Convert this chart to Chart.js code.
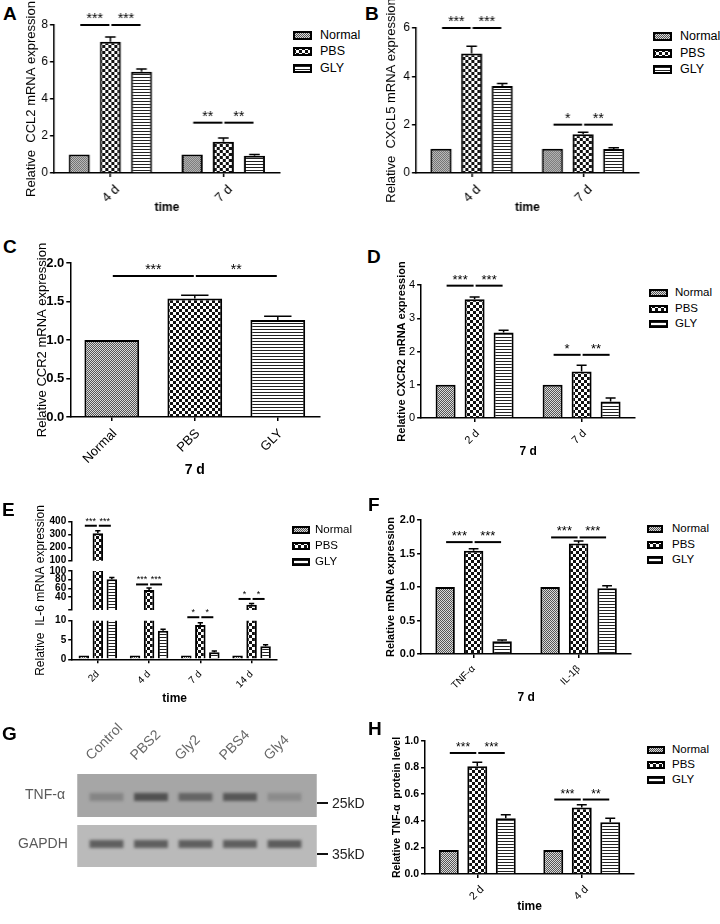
<!DOCTYPE html>
<html>
<head>
<meta charset="utf-8">
<script src="https://cdn.jsdelivr.net/npm/chart.js@4.4.1/dist/chart.umd.min.js"></script>
<style>
  body { margin: 0; background: #fff; font-family: Arial, "Liberation Sans", sans-serif; }
  #fig { position: relative; width: 720px; height: 924px; overflow: hidden; background: #fff; }
  .box { position: absolute; }
</style>
</head>
<body>
<div id="fig"></div>
<script>
const series = ['Normal', 'PBS', 'GLY'];

// A - CCL2
const daysA = ['4 d', '7 d'];
const normalA = [1, 1];
const pbsA = [7.1, 1.69];
const glyA = [5.47, 0.93];
const errA = [[0, 0], [0.25, 0.2], [0.15, 0.07]];
const sigA = [[0, 0, 1, 8, '***'], [0, 1, 2, 8, '***'], [1, 0, 1, 2.72, '**'], [1, 1, 2, 2.72, '**']];

// B - CXCL5
const daysB = ['4 d', '7 d'];
const normalB = [1, 1];
const pbsB = [4.95, 1.6];
const glyB = [3.6, 0.99];
const errB = [[0, 0], [0.3, 0.09], [0.1, 0.05]];
const sigB = [[0, 0, 1, 6, '***'], [0, 1, 2, 6, '***'], [1, 0, 1, 2.0, '*'], [1, 1, 2, 2.0, '**']];

// C - CCR2, 7 d
const groupsC = ['Normal', 'PBS', 'GLY'];
const valuesC = [1, 1.54, 1.26];
const errC = [[0, 0.04, 0.05]];
const sigC = [[0, 0, 1, 1.83, '***'], [0, 1, 2, 1.83, '**']];

// D - CXCR2
const daysD = ['2 d', '7 d'];
const normalD = [1, 1];
const pbsD = [3.57, 1.4];
const glyD = [2.57, 0.5];
const errD = [[0, 0], [0.07, 0.19], [0.07, 0.1]];
const sigD = [[0, 0, 1, 3.98, '***'], [0, 1, 2, 3.98, '***'], [1, 0, 1, 1.9, '*'], [1, 1, 2, 1.9, '**']];

// E - IL-6 (broken axis)
const daysE = ['2d', '4 d', '7 d', '14 d'];
const normalE = [1, 1, 1, 1];
const pbsE = [311, 56, 8.9, 22];
const glyE = [81, 7.4, 1.8, 3.4];
const errE = [[0, 0, 0, 0], [20, 5, 0.6, 3], [4, 0.4, 0.35, 0.35]];
const sigE = [[0, 0, 1, 369, '***'], [0, 1, 2, 369, '***'], [1, 0, 1, 69, '***'], [1, 1, 2, 69, '***'],
              [2, 0, 1, 10.9, '*'], [2, 1, 2, 10.9, '*'], [3, 0, 1, 35.5, '*'], [3, 1, 2, 35.5, '*']];

// F - TNF-a / IL-1b, 7 d
const genesF = ['TNF-α', 'IL-1β'];
const normalF = [1, 1];
const pbsF = [1.54, 1.65];
const glyF = [0.19, 0.98];
const errF = [[0, 0], [0.03, 0.035], [0.02, 0.04]];
const sigF = [[0, 0, 1, 1.67, '***'], [0, 1, 2, 1.67, '***'], [1, 0, 1, 1.74, '***'], [1, 1, 2, 1.74, '***']];

// G - western blot lanes
const lanes = ['Control', 'PBS2', 'Gly2', 'PBS4', 'Gly4'];
const tnfBand = [0.25, 0.65, 0.5, 0.6, 0.2];
const gapdhBand = [0.6, 0.6, 0.6, 0.6, 0.62];

// H - TNF-a protein
const daysH = ['2 d', '4 d'];
const normalH = [0.18, 0.18];
const pbsH = [0.81, 0.5];
const glyH = [0.42, 0.39];
const errH = [[0, 0], [0.03, 0.02], [0.025, 0.03]];
const sigH = [[0, 0, 1, 0.91, '***'], [0, 1, 2, 0.91, '***'], [1, 0, 1, 0.56, '***'], [1, 1, 2, 0.56, '**']];

const FONT = 'Arial, "Liberation Sans", sans-serif';
const fig = document.getElementById('fig');

function tile(kind) {
  const c = document.createElement('canvas');
  if (kind === 0) {
    c.width = c.height = 2;
    const g = c.getContext('2d');
    g.fillStyle = '#dadada'; g.fillRect(0, 0, 2, 2);
    g.fillStyle = '#555'; g.fillRect(0, 0, 1, 1); g.fillRect(1, 1, 1, 1);
  } else if (kind === 1) {
    c.width = c.height = 6;
    const g = c.getContext('2d');
    g.fillStyle = '#111'; g.fillRect(0, 0, 6, 6);
    g.fillStyle = '#fff'; g.fillRect(0, 0, 3, 3); g.fillRect(3, 3, 3, 3);
  } else {
    c.width = 1; c.height = 3;
    const g = c.getContext('2d');
    g.fillStyle = '#fff'; g.fillRect(0, 0, 1, 3);
    g.fillStyle = '#222'; g.fillRect(0, 2, 1, 1);
  }
  return c;
}
const pat = [0, 1, 2].map(k => document.createElement('canvas').getContext('2d').createPattern(tile(k), 'repeat'));

function place(x, y, w, h) {
  const d = document.createElement('div');
  d.className = 'box';
  Object.assign(d.style, { left: x + 'px', top: y + 'px', width: w + 'px', height: h + 'px' });
  const c = document.createElement('canvas');
  d.appendChild(c);
  fig.appendChild(d);
  return c;
}

function text(str, x, yc, size, css) {
  const d = document.createElement('div');
  d.textContent = str;
  Object.assign(d.style, {
    position: 'absolute', left: x + 'px', top: (yc - size * 0.6) + 'px',
    fontSize: size + 'px', lineHeight: (size * 1.2) + 'px', whiteSpace: 'nowrap'
  }, css || {});
  fig.appendChild(d);
}

function legend(x, y, dy, w, h, tx, size) {
  series.forEach((name, i) => {
    const yc = y + i * dy;
    const sw = document.createElement('canvas');
    sw.width = w; sw.height = h;
    Object.assign(sw.style, { position: 'absolute', left: x + 'px', top: (yc - h / 2) + 'px' });
    const g = sw.getContext('2d');
    g.fillStyle = g.createPattern(tile(i), 'repeat');
    g.fillRect(0, 0, w, h);
    g.lineWidth = 2; g.strokeStyle = '#000'; g.strokeRect(1, 1, w - 2, h - 2);
    fig.appendChild(sw);
    text(name, tx, yc, size);
  });
}

// error bars and significance lines, drawn through the chart's scales
function marks(m) {
  const lo = m.band ? m.band[0] : -Infinity, hi = m.band ? m.band[1] : Infinity;
  const barAt = (chart, g, k) => chart.data.datasets.length === 1
    ? chart.getDatasetMeta(0).data[k] : chart.getDatasetMeta(k).data[g];
  return {
    id: 'marks',
    afterDatasetsDraw(chart) {
      const ctx = chart.ctx, y = chart.scales.y;
      ctx.save();
      ctx.strokeStyle = '#000';
      ctx.lineWidth = 1.5;
      m.errors.forEach((errs, i) => {
        chart.getDatasetMeta(i).data.forEach((bar, j) => {
          const v = chart.data.datasets[i].data[j], e = errs[j];
          if (!e || v < lo || v >= hi) return;
          const top = y.getPixelForValue(v + e), cap = bar.width / 4;
          ctx.beginPath();
          ctx.moveTo(bar.x, bar.y); ctx.lineTo(bar.x, top);
          ctx.moveTo(bar.x - cap, top); ctx.lineTo(bar.x + cap, top);
          ctx.stroke();
        });
      });
      ctx.lineWidth = 2;
      ctx.fillStyle = '#000';
      ctx.textAlign = 'center';
      ctx.textBaseline = 'alphabetic';
      ctx.font = m.star + 'px ' + FONT;
      m.sig.forEach(([g, a, b, v, txt]) => {
        if (v < lo || v >= hi) return;
        const xa = barAt(chart, g, a).x + 1, xb = barAt(chart, g, b).x - 1, py = y.getPixelForValue(v);
        ctx.beginPath(); ctx.moveTo(xa, py); ctx.lineTo(xb, py); ctx.stroke();
        ctx.fillText(txt, (xa + xb) / 2, py - 2);
      });
      ctx.restore();
    }
  };
}

const font = (size, bold) => ({ family: FONT, size, weight: bold ? 'bold' : 'normal' });

function bars(c) {
  const canvas = place(...c.box);
  return new Chart(canvas, {
    type: 'bar',
    data: { labels: c.labels, datasets: c.datasets },
    options: {
      responsive: true, maintainAspectRatio: false, animation: false, events: [],
      layout: { padding: { left: 0, top: c.pad[0], right: c.pad[1], bottom: c.pad[2] } },
      datasets: { bar: { categoryPercentage: c.pct[0], barPercentage: c.pct[1], borderColor: '#000', borderWidth: 2, clip: c.clip } },
      plugins: { legend: { display: false }, tooltip: { enabled: false } },
      scales: {
        x: {
          display: c.x.display !== false, offset: true,
          grid: { drawOnChartArea: false, offset: false, tickLength: 4, color: '#000', lineWidth: 1.5 },
          border: { color: '#000', width: 1.5 },
          ticks: { color: '#000', font: font(c.x.size), minRotation: 45, maxRotation: 45, autoSkip: false,
                   padding: c.x.pad, labelOffset: c.x.shift || 0 },
          title: { display: !!c.x.title, text: c.x.title, color: '#000', font: font(c.x.ts, true), padding: 0 },
          afterFit: s => { s.height = c.xHeight; }
        },
        y: {
          min: c.y.min || 0, max: c.y.max,
          grid: { drawOnChartArea: false, tickLength: 4, color: '#000', lineWidth: 1.5 },
          border: { color: '#000', width: 1.5 },
          ticks: { stepSize: c.y.step, color: '#000', font: font(c.y.size, c.y.bold), padding: 2, autoSkip: false, callback: c.y.fmt || (v => v) },
          title: { display: !!c.y.title, text: c.y.title, color: '#000', font: font(c.y.ts, c.y.tb), padding: 0 },
          afterFit: s => { s.width = c.yWidth; }
        }
      }
    },
    plugins: [marks(c.marks)]
  });
}

// one ordinary panel: area = plot rectangle on the page
function panel(p) {
  const [x0, y0, x1, y1] = p.area;
  const L = x0 - (p.y.tx - 0.6 * p.y.ts);
  const B = p.x.ty + 0.6 * p.x.ts - y1;
  return bars({
    box: [x0 - L, p.top, x1 - x0 + L + 6, y1 - p.top + B],
    pad: [y0 - p.top, 6, 0], yWidth: L, xHeight: B,
    labels: p.labels, datasets: p.datasets, pct: p.pct,
    x: p.x, y: p.y, marks: p.marks
  });
}

const groupSets = vals => vals.map((v, i) => ({ label: series[i], data: v, backgroundColor: pat[i] }));
const oneDec = v => v.toFixed(1);

panel({
  labels: daysA, datasets: groupSets([normalA, pbsA, glyA]), pct: [0.827, 0.677],
  area: [54, 25, 279, 173], top: 0,
  y: { max: 8, step: 2, size: 12, title: 'Relative  CCL2 mRNA expression', tx: 32, ts: 13 },
  x: { size: 13, pad: 5, shift: 7, title: 'time', ty: 208, ts: 12 },
  marks: { errors: errA, sig: sigA, star: 14 }
});

panel({
  labels: daysB, datasets: groupSets([normalB, pbsB, glyB]), pct: [0.824, 0.69],
  area: [416, 28, 638, 173], top: 0,
  y: { max: 6, step: 2, size: 12, title: 'Relative  CXCL5 mRNA expression', tx: 392, ts: 13 },
  x: { size: 13, pad: 5, shift: 7, title: 'time', ty: 208, ts: 12 },
  marks: { errors: errB, sig: sigB, star: 14 }
});

panel({
  labels: groupsC, datasets: [{ label: '7 d', data: valuesC, backgroundColor: pat }], pct: [0.66, 1],
  area: [70.5, 263, 319.5, 417], top: 228,
  y: { max: 2, step: 0.5, size: 13, bold: true, fmt: oneDec, title: 'Relative CCR2 mRNA expression', tx: 43, ts: 13 },
  x: { size: 13, pad: 5, shift: 3, title: '7 d', ty: 470, ts: 14 },
  marks: { errors: errC, sig: sigC, star: 14 }
});

panel({
  labels: daysD, datasets: groupSets([normalD, pbsD, glyD]), pct: [0.813, 0.69],
  area: [421.5, 285, 635.5, 418], top: 248,
  y: { max: 4, step: 1, size: 11, title: 'Relative CXCR2 mRNA expression', tx: 402, ts: 11, tb: true },
  x: { size: 11, pad: 5, shift: 3, title: '7 d', ty: 452, ts: 12 },
  marks: { errors: errD, sig: sigD, star: 13 }
});

// E: three stacked segments sharing one box
(function () {
  const x0 = 72, x1 = 277, top = 500, bottom = 706;
  const L = x0 - (40 - 0.6 * 12);
  const box = [x0 - L, top, x1 - x0 + L + 6, bottom - top];
  const segs = [
    { y0: 521.7, y1: 560.7, min: 100, max: 400, step: 100, band: [100, Infinity] },
    { y0: 571, y1: 610, min: 10, max: 100, step: 20, band: [12, 100], fmt: v => (v === 10 ? '' : v), title: 'Relative  IL-6 mRNA expression' },
    { y0: 620.7, y1: 659.3, min: 0, max: 10, step: 5, band: [0, 12], axis: true }
  ];
  segs.forEach(s => bars({
    box, pad: [s.y0 - top, 6, s.axis ? 0 : bottom - s.y1], yWidth: L, xHeight: s.axis ? bottom - s.y1 : 0,
    labels: daysE, datasets: groupSets([normalE, pbsE, glyE]), pct: [0.82, 0.75], clip: 0,
    x: s.axis ? { size: 10, pad: 5, title: 'time', ts: 12 } : { display: false },
    y: { min: s.min, max: s.max, step: s.step, size: 10, bold: true, fmt: s.fmt, title: s.title, ts: 12 },
    marks: { errors: errE, sig: sigE, star: 9, band: s.band }
  }));
})();

panel({
  labels: genesF, datasets: groupSets([normalF, pbsF, glyF]), pct: [0.814, 0.684],
  area: [421.5, 520, 631.5, 654], top: 494,
  y: { max: 2, step: 0.5, size: 11, bold: true, fmt: oneDec, title: 'Relative mRNA expression', tx: 391, ts: 11, tb: true },
  x: { size: 10, pad: 5, title: '7 d', ty: 698, ts: 12 },
  marks: { errors: errF, sig: sigF, star: 13 }
});

panel({
  labels: daysH, datasets: groupSets([normalH, pbsH, glyH]), pct: [0.818, 0.7],
  area: [424.75, 741, 633.75, 874], top: 716,
  y: { max: 1, step: 0.2, size: 10.5, bold: true, fmt: oneDec, title: 'Relative TNF-α  protein level', tx: 397, ts: 10.5, tb: true },
  x: { size: 11, pad: 5, shift: 5, title: 'time', ty: 907, ts: 12 },
  marks: { errors: errH, sig: sigH, star: 12 }
});

// G: blot drawn as floating bars on a lane axis
(function () {
  const membranes = [[0, 43, '#a6a6a6'], [51, 93, '#bababa']];
  const tnfRow = [19, 27], gapdhRow = [66, 74];
  const blot = {
    id: 'blot',
    beforeDatasetsDraw(chart) {
      const { ctx, chartArea: a, scales: { y } } = chart;
      ctx.save();
      membranes.forEach(([t, b, col]) => {
        ctx.fillStyle = col;
        ctx.fillRect(a.left - 7, y.getPixelForValue(t), a.right - a.left + 17, y.getPixelForValue(b) - y.getPixelForValue(t));
      });
      ctx.restore();
    },
    beforeDatasetDraw(chart) { chart.ctx.save(); chart.ctx.filter = 'blur(1.6px)'; },
    afterDatasetDraw(chart) { chart.ctx.restore(); }
  };
  const canvas = place(60, 719, 270, 151);
  new Chart(canvas, {
    type: 'bar',
    data: {
      labels: lanes,
      datasets: [
        { data: tnfBand.map(() => tnfRow), backgroundColor: tnfBand.map(a => `rgba(35,35,35,${a})`) },
        { data: gapdhBand.map(() => gapdhRow), backgroundColor: gapdhBand.map(a => `rgba(35,35,35,${a})`) }
      ]
    },
    options: {
      responsive: true, maintainAspectRatio: false, animation: false, events: [],
      layout: { padding: { left: 24.25, right: 23.25, top: 0, bottom: 3 } },
      datasets: { bar: { grouped: false, categoryPercentage: 1, barPercentage: 0.76, borderWidth: 0 } },
      plugins: { legend: { display: false }, tooltip: { enabled: false } },
      scales: {
        x: {
          position: 'top', offset: true,
          grid: { display: false }, border: { display: false },
          ticks: { color: '#686868', font: font(14), minRotation: 45, maxRotation: 45, autoSkip: false, padding: 2, labelOffset: -6 },
          afterFit: s => { s.height = 55; }
        },
        y: { display: false, min: 0, max: 93, reverse: true }
      }
    },
    plugins: [blot]
  });
})();

text('TNF-α', 25, 794, 14, { color: '#5a5a5a' });
text('GAPDH', 18, 843, 14, { color: '#5a5a5a' });
[['25kD', 803], ['35kD', 854]].forEach(([t, yc]) => {
  const d = document.createElement('div');
  Object.assign(d.style, { position: 'absolute', left: '317px', top: (yc - 1) + 'px', width: '11px', height: '2px', background: '#111' });
  fig.appendChild(d);
  text(t, 332, yc, 14, { color: '#222' });
});

// legends
legend(293, 35, 16.7, 19, 9, 320, 12.5);
legend(653, 36.5, 16.7, 19, 9, 680, 12.5);
legend(649, 293.3, 15.4, 19, 8, 675, 11.5);
legend(292, 530, 16, 18, 8, 315, 11.5);
legend(647, 529, 15.5, 16, 8, 672, 11.5);
legend(647, 750, 15, 18, 8, 672, 11.5);

// panel letters
[['A', 3, 14.3], ['B', 365, 14.5], ['C', 3, 247.5], ['D', 367, 257], ['E', 2, 510],
 ['F', 368, 505], ['G', 2, 734.5], ['H', 368, 729.5]].forEach(([t, x, yc]) =>
  text(t, x, yc, 19, { fontWeight: 'bold' }));
</script>
</body>
</html>
